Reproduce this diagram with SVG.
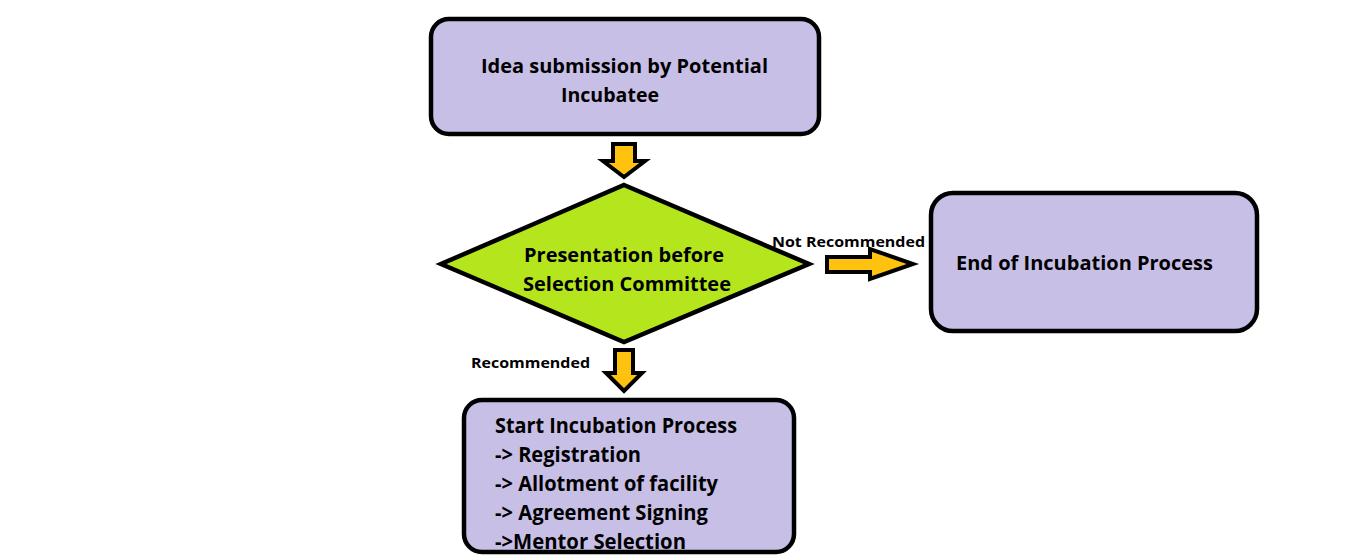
<svg xmlns="http://www.w3.org/2000/svg" width="1351" height="555" viewBox="0 0 1351 555">
<style>
.box{fill:#c8bfe7;stroke:#000;stroke-width:4.5}
.dia{fill:#b5e61d;stroke:#000;stroke-width:4.5;stroke-linejoin:miter}
.arr{fill:#ffc20e;stroke:#000;stroke-width:4;stroke-linejoin:miter}
.t{font-family:"Open Sans","Liberation Sans",sans-serif;font-weight:bold;fill:#000}
.lbl{font-family:"Open Sans","Liberation Sans",Arial,sans-serif;font-weight:bold;font-size:15px;fill:#000}
</style>
<rect width="1351" height="555" fill="#fff"/>
<g id="idea">
<rect class="box" x="431" y="19" width="388" height="115" rx="18"/>
<text class="t" font-size="19.5" x="481" y="73" textLength="287" lengthAdjust="spacingAndGlyphs">Idea submission by Potential</text>
<text class="t" font-size="19.5" x="561" y="102" textLength="98" lengthAdjust="spacingAndGlyphs">Incubatee</text>
</g>
<g id="presentation">
<polygon class="dia" points="624,185 809,264 624,342 441,264"/>
<text class="t" font-size="19.5" x="624" y="262" text-anchor="middle" textLength="200" lengthAdjust="spacingAndGlyphs">Presentation before</text>
<text class="t" font-size="19.5" x="627" y="291" text-anchor="middle" textLength="208" lengthAdjust="spacingAndGlyphs">Selection Committee</text>
</g>
<g id="end">
<rect class="box" x="931" y="193" width="326" height="138" rx="22" stroke-width="5"/>
<text class="t" font-size="19.5" x="956" y="270" textLength="257" lengthAdjust="spacingAndGlyphs">End of Incubation Process</text>
</g>
<g id="start">
<rect class="box" x="464" y="400" width="330" height="152" rx="18"/>
<text class="t" font-size="20.5" x="495" y="433" textLength="242" lengthAdjust="spacingAndGlyphs">Start Incubation Process</text>
<text class="t" font-size="20.5" x="495" y="462" textLength="146" lengthAdjust="spacingAndGlyphs">-&gt; Registration</text>
<text class="t" font-size="20.5" x="495" y="491" textLength="223" lengthAdjust="spacingAndGlyphs">-&gt; Allotment of facility</text>
<text class="t" font-size="20.5" x="495" y="520" textLength="213" lengthAdjust="spacingAndGlyphs">-&gt; Agreement Signing</text>
<text class="t" font-size="20.5" x="495" y="549" textLength="191" lengthAdjust="spacingAndGlyphs">-&gt;Mentor Selection</text>
</g>
<g id="connectors">
<polygon class="arr" points="613,144 635,144 635,161 645,161 624,177 603,161 613,161"/>
<polygon class="arr" points="827,257 870,257 870,249 913,264 870,279 870,272 827,272"/>
<polygon class="arr" points="615,350 633,350 633,373 642,373 624,391 606,373 615,373"/>
<text class="lbl" x="772" y="247" textLength="153" lengthAdjust="spacingAndGlyphs">Not Recommended</text>
<text class="lbl" x="471" y="368" textLength="119" lengthAdjust="spacingAndGlyphs">Recommended</text>
</g>
</svg>
